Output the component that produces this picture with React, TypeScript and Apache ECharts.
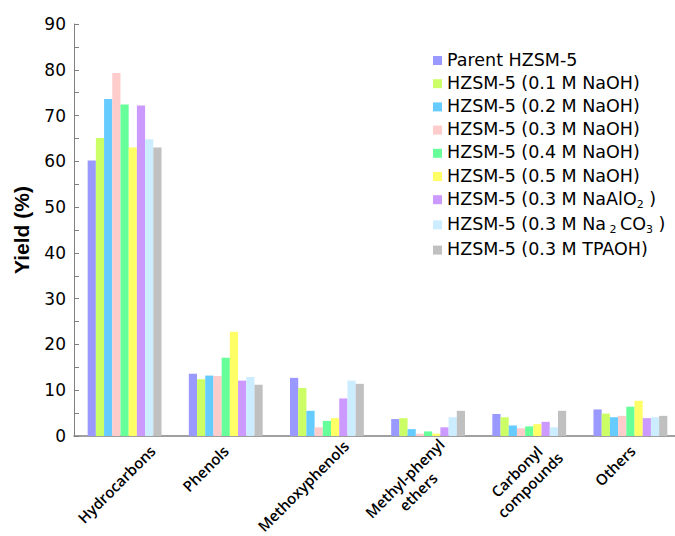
import React, { useEffect, useRef } from "react";
import * as echarts from "echarts";

const categories = [
  "Hydrocarbons",
  "Phenols",
  "Methoxyphenols",
  "Methyl-phenyl\nethers",
  "Carbonyl\ncompounds",
  "Others",
];

const seriesNames = [
  "Parent HZSM-5",
  "HZSM-5 (0.1 M NaOH)",
  "HZSM-5 (0.2 M NaOH)",
  "HZSM-5 (0.3 M NaOH)",
  "HZSM-5 (0.4 M NaOH)",
  "HZSM-5 (0.5 M NaOH)",
  "HZSM-5 (0.3 M NaAlO2)",
  "HZSM-5 (0.3 M Na2CO3)",
  "HZSM-5 (0.3 M TPAOH)",
];

const legendRich: Record<string, string> = {
  "HZSM-5 (0.3 M NaAlO2)": "{t|HZSM-5 (0.3 M NaAlO}{s|2}{t| )}",
  "HZSM-5 (0.3 M Na2CO3)": "{t|HZSM-5 (0.3 M Na}{s| 2 }{t|CO}{s|3}{t| )}",
};

const colors = [
  "#9999FF",
  "#CCFF66",
  "#66CCFF",
  "#FFCCCC",
  "#66FF99",
  "#FFFF66",
  "#CC99FF",
  "#CCECFF",
  "#C0C0C0",
];

const parentValues = [60.2, 13.6, 12.7, 3.7, 4.8, 5.8];
const naoh01Values = [65.1, 12.4, 10.5, 3.9, 4.1, 4.9];
const naoh02Values = [73.6, 13.2, 5.5, 1.5, 2.3, 4.1];
const naoh03Values = [79.3, 13.1, 1.9, 0.5, 1.7, 4.4];
const naoh04Values = [72.4, 17.1, 3.3, 1.0, 2.1, 6.4];
const naoh05Values = [63.0, 22.8, 3.9, 0.5, 2.6, 7.7];
const naalo2Values = [72.2, 12.1, 8.2, 1.9, 3.1, 3.9];
const na2co3Values = [64.8, 12.9, 12.1, 4.1, 1.9, 4.1];
const tpaohValues = [63.0, 11.2, 11.4, 5.5, 5.5, 4.4];

const allValues = [
  parentValues,
  naoh01Values,
  naoh02Values,
  naoh03Values,
  naoh04Values,
  naoh05Values,
  naalo2Values,
  na2co3Values,
  tpaohValues,
];

const yTicks = [0, 10, 20, 30, 40, 50, 60, 70, 80, 90];

// horizontal nudge (px) of each rotated category label, to mimic the original layout
const labelNudge = [28, 0, 14, 20, 24, 2];
// extra push (px) along the label's own direction
const labelPush = [0, 0, 7, 0, 0, 0];

export default function App() {
  const ref = useRef<HTMLDivElement>(null);

  useEffect(() => {
    if (!ref.current) return;
    const chart = echarts.init(ref.current, undefined, { renderer: "svg" });
    const xData = categories.map((c, i) => {
      const s = labelNudge[i] / Math.SQRT2;
      return {
        value: c,
        textStyle: { padding: [2 * s, -s - labelPush[i], 0, 0] },
      };
    });
    const option: any = {
      animation: false,
      backgroundColor: "#ffffff",
      grid: {
        left: 74,
        top: 24,
        right: -6,
        bottom: 100,
        containLabel: false,
        outerBoundsMode: "none",
      },
      legend: {
        orient: "vertical",
        left: 428,
        top: 45.5,
        itemWidth: 9,
        itemHeight: 9,
        itemGap: 5.2,
        icon: "rect",
        data: seriesNames,
        formatter: (name: string) => legendRich[name] || `{t|${name}}`,
        textStyle: {
          color: "#000",
          fontFamily: "DejaVu Sans",
          fontSize: 17.5,
          rich: {
            t: {
              fontFamily: "DejaVu Sans",
              fontSize: 17.5,
              lineHeight: 20,
              verticalAlign: "top",
              color: "#000",
            },
            s: {
              fontFamily: "DejaVu Sans",
              fontSize: 11,
              lineHeight: 11,
              verticalAlign: "bottom",
              color: "#000",
            },
          },
        },
      },
      xAxis: {
        type: "category",
        data: xData,
        axisLine: { lineStyle: { color: "#808080", width: 1.5 } },
        axisTick: { show: false },
        axisLabel: {
          interval: 0,
          rotate: 45,
          margin: 12,
          color: "#000",
          formatter: (v: string) =>
            v
              .split("\n")
              .map((l) => `{c|${l}}`)
              .join("\n"),
          rich: {
            c: {
              align: "center",
              fontFamily: "Open Sans",
              fontWeight: 600,
              fontSize: 15,
              lineHeight: 19,
              color: "#000",
            },
          },
        },
      },
      yAxis: {
        type: "value",
        min: 0,
        max: 90,
        interval: 5,
        name: "Yield (%)",
        nameLocation: "middle",
        nameGap: 42,
        nameTextStyle: {
          fontFamily: "Liberation Sans",
          fontWeight: "bold",
          fontSize: 21,
          color: "#000",
        },
        axisLine: { show: true, lineStyle: { color: "#808080", width: 1 } },
        axisTick: { show: true, inside: true, length: 5, lineStyle: { color: "#808080" } },
        splitLine: { show: false },
        axisLabel: {
          margin: 8,
          color: "#000",
          fontFamily: "DejaVu Sans",
          fontSize: 17,
          formatter: (v: number) => (yTicks.includes(v) ? String(v) : ""),
        },
      },
      series: seriesNames.map((name, i) => ({
        name,
        type: "bar",
        data: allValues[i],
        barGap: "0%",
        barCategoryGap: "27%",
        itemStyle: { color: colors[i] },
      })),
    };
    chart.setOption(option);
    return () => chart.dispose();
  }, []);

  return (
    <div
      ref={ref}
      style={{ position: "fixed", left: 0, top: 0, width: 675, height: 536 }}
    />
  );
}
